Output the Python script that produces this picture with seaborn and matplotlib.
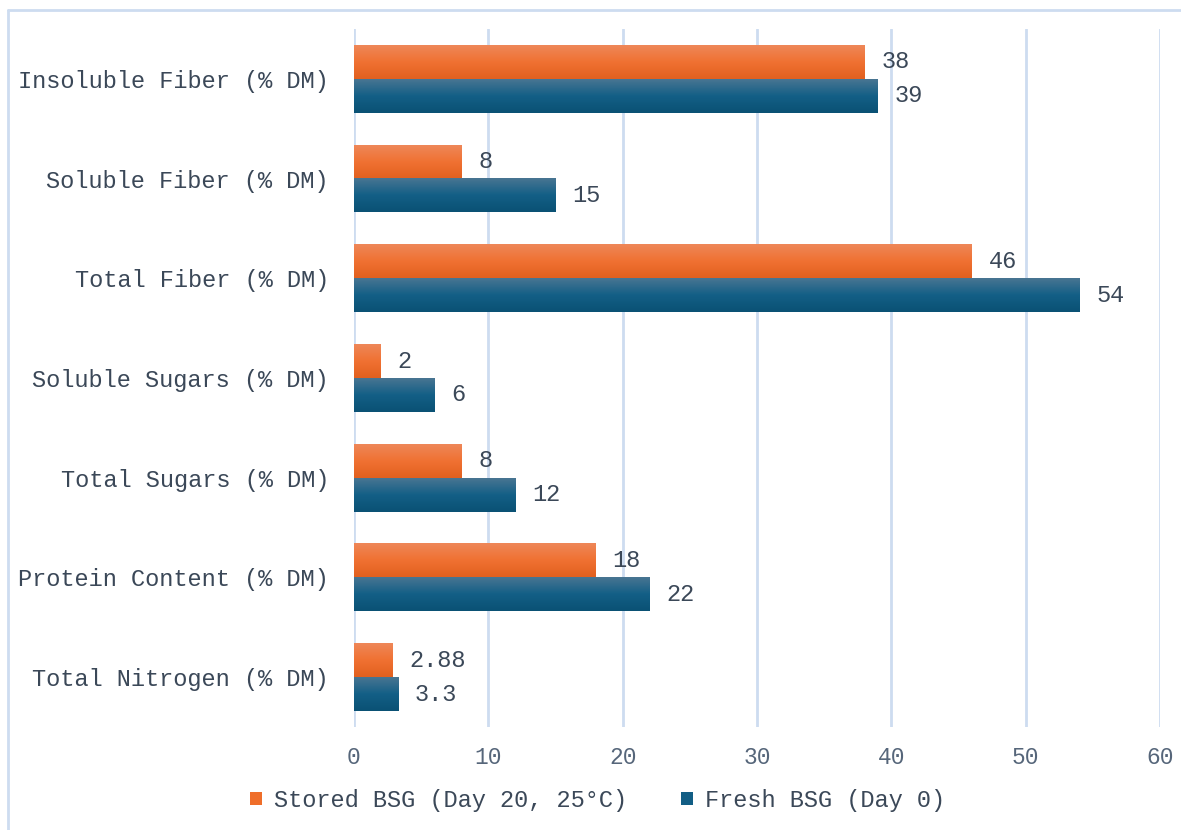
import numpy as np
import pandas as pd
import matplotlib
matplotlib.use("Agg")
import matplotlib.pyplot as plt
from matplotlib.colors import LinearSegmentedColormap
from matplotlib.patches import Patch
from matplotlib.lines import Line2D
import seaborn as sns

# Composition of brewers' spent grain, fresh vs. stored
categories = [
    "Insoluble Fiber (% DM)",
    "Soluble Fiber (% DM)",
    "Total Fiber (% DM)",
    "Soluble Sugars (% DM)",
    "Total Sugars (% DM)",
    "Protein Content (% DM)",
    "Total Nitrogen (% DM)",
]
stored_values = [38, 8, 46, 2, 8, 18, 2.88]
fresh_values = [39, 15, 54, 6, 12, 22, 3.3]
series_names = ["Stored BSG (Day 20, 25°C)", "Fresh BSG (Day 0)"]
x_ticks = [0, 10, 20, 30, 40, 50, 60]

df = pd.DataFrame({
    "category": categories * 2,
    "value": stored_values + fresh_values,
    "sample": [series_names[0]] * len(categories) + [series_names[1]] * len(categories),
})

sns.set_theme(style="white")
plt.rcParams["font.family"] = ["Liberation Mono", "DejaVu Sans Mono"]

orange_mid, blue_mid = "#ef6e2a", "#125e85"
gradients = {
    series_names[0]: LinearSegmentedColormap.from_list(
        "og", ["#ee8758", "#f07132", "#e2601f"]),
    series_names[1]: LinearSegmentedColormap.from_list(
        "bg", ["#487592", "#135f86", "#0a5174"]),
}

fig = plt.figure(figsize=(11.81, 8.30), dpi=100)
ax = fig.add_axes([354 / 1181, 1 - 727 / 830, (1160 - 354) / 1181, (727 - 29) / 830])

sns.barplot(data=df, x="value", y="category", hue="sample", orient="h",
            hue_order=series_names, order=categories, width=0.68,
            palette=[orange_mid, blue_mid], legend=False, ax=ax, errorbar=None)

ax.set_xlim(0, 60)
ax.set_xticks(x_ticks)
ax.set_xlabel("")
ax.set_ylabel("")
ylim = ax.get_ylim()

text_color = "#3b4858"
label_values = [stored_values, fresh_values]
for container, name, vals in zip(ax.containers, series_names, label_values):
    ax.bar_label(container, labels=[f"{v:g}" for v in vals], padding=12,
                 fontsize=17, color=text_color)
    grad = np.linspace(0, 1, 64).reshape(-1, 1)
    for bar in container:
        x, y = bar.get_x(), bar.get_y()
        w, h = bar.get_width(), bar.get_height()
        ax.imshow(grad, cmap=gradients[name], aspect="auto", origin="upper",
                  extent=(x, x + w, y + h, y), zorder=3, interpolation="bilinear")
        bar.set_alpha(0)

ax.set_ylim(ylim)
ax.set_xlim(0, 60)

grid_color = "#cddcf0"
ax.grid(axis="x", color=grid_color, linewidth=2, zorder=0)
ax.set_axisbelow(True)
for s in ax.spines.values():
    s.set_visible(False)
ax.tick_params(axis="y", length=0, pad=18, labelsize=17, labelcolor=text_color)
ax.tick_params(axis="x", length=0, pad=14, labelsize=16.5, labelcolor="#56667a")

handles = [Patch(facecolor=orange_mid, edgecolor="none"),
           Patch(facecolor=blue_mid, edgecolor="none")]
fig.legend(handles, series_names, loc="center", bbox_to_anchor=(0.506, 0.036),
           ncol=2, frameon=False, fontsize=17, labelcolor=text_color,
           handlelength=0.5, handleheight=0.5, handletextpad=0.5,
           columnspacing=2.3)

# Chart frame along the top and left edges
fig.add_artist(Line2D([8 / 1181, 1], [1 - 10 / 830] * 2, color=grid_color,
                      linewidth=2, transform=fig.transFigure))
fig.add_artist(Line2D([8 / 1181] * 2, [0, 1 - 10 / 830], color=grid_color,
                      linewidth=2, transform=fig.transFigure))

fig.savefig("out.png", dpi=100)
